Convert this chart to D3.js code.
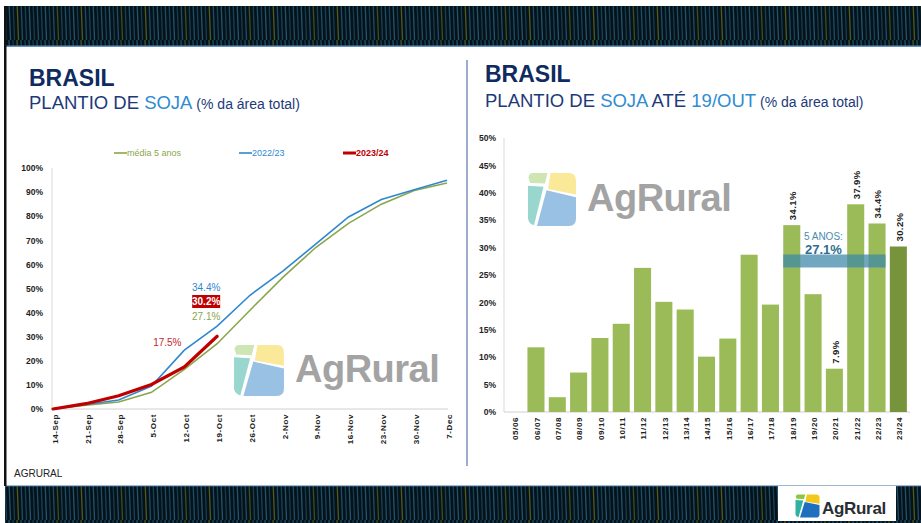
<!DOCTYPE html>
<html><head><meta charset="utf-8">
<script src="https://cdn.jsdelivr.net/npm/d3@7"></script>
<style>
html,body{margin:0;padding:0;background:#fff;}
svg{display:block;font-family:"Liberation Sans",Arial,sans-serif;}
</style></head>
<body>
<svg id="c" width="921" height="523"></svg>
<script>
// ---------- DATA ----------
const dates = ["14-Sep","21-Sep","28-Sep","5-Oct","12-Oct","19-Oct","26-Oct","2-Nov","9-Nov","16-Nov","23-Nov","30-Nov","7-Dec"];
const media5 = [0,1.6,2.9,6.9,16.4,27.1,41.0,54.6,67.0,77.0,85.0,90.7,93.8];
const s2223 = [0,1.9,3.7,9.5,24.4,34.4,47.2,57.2,68.4,79.7,86.9,91.0,94.9];
const s2324 = [0,2.2,5.5,10.2,17.5,30.2];
const yTicksLeft = [0,10,20,30,40,50,60,70,80,90,100];
const legendNames = ["média 5 anos","2022/23","2023/24"];

const seasons = ["05/06","06/07","07/08","08/09","09/10","10/11","11/12","12/13","13/14","14/15","15/16","16/17","17/18","18/19","19/20","20/21","21/22","22/23","23/24"];
const plantio = [0,11.8,2.7,7.2,13.5,16.1,26.3,20.1,18.7,10.1,13.4,28.7,19.6,34.1,21.5,7.9,37.9,34.4,30.2];
const labeledSeasons = ["18/19","20/21","21/22","22/23","23/24"];
const avgSeasons = ["18/19","19/20","20/21","21/22","22/23"];
const avg5 = 27.1;
const yTicksRight = [0,5,10,15,20,25,30,35,40,45,50];

// ---------- SETUP ----------
const svg = d3.select("#c");
const defs = svg.append("defs");
const pat = defs.append("pattern").attr("id","stripes").attr("patternUnits","userSpaceOnUse")
  .attr("width",64).attr("height",40);
pat.append("rect").attr("width",64).attr("height",40).attr("fill","#061218");
[[1,"#1a4d68"],[5,"#15425a"],[9,"#1c5472"],[13,"#133b50"],[17,"#4d5a1c"],[21,"#1a4d68"],[25,"#15425a"],[29,"#1c5472"],
 [33,"#133b50"],[37,"#1a4d68"],[41,"#15425a"],[45,"#1c5472"],[49,"#133b50"],[53,"#1a4d68"],[57,"#3e4d1a"],[61,"#15425a"]]
  .forEach(([x,c])=>pat.append("line").attr("x1",x).attr("x2",x+1.5).attr("y1",0).attr("y2",40).attr("stroke",c).attr("stroke-width",1.3));

// banners
svg.append("rect").attr("x",5).attr("y",6).attr("width",916).attr("height",40).attr("fill","url(#stripes)");
svg.append("line").attr("x1",5).attr("x2",921).attr("y1",46).attr("y2",46).attr("stroke","#3c6d9c").attr("stroke-width",1.5);
svg.append("rect").attr("x",5).attr("y",486).attr("width",916).attr("height",37).attr("fill","url(#stripes)");
svg.append("line").attr("x1",5).attr("x2",921).attr("y1",486).attr("y2",486).attr("stroke","#3c6d9c").attr("stroke-width",1);
svg.append("rect").attr("x",4).attr("y",6).attr("width",2.5).attr("height",480).attr("fill","#111");
// divider
svg.append("line").attr("x1",467).attr("x2",467).attr("y1",60).attr("y2",466).attr("stroke","#3b5c99").attr("stroke-width",1);

// ---------- logo helper ----------
function drawIcon(g, x, y, w, h, cols, op){
  const s = g.append("g").attr("transform",`translate(${x},${y}) scale(${w},${h})`).attr("opacity",op);
  const paths = [
    ["M0.06,0.2 L0.36,0.21 L0.41,0.02 L0.12,0.02 Q0.04,0.02 0.03,0.1 Z", cols[0]],
    ["M0.47,0.02 L0.84,0.02 Q0.98,0.02 0.98,0.16 L0.98,0.41 L0.42,0.31 Z", cols[1]],
    ["M0.02,0.25 L0.33,0.27 L0.14,0.97 Q0.03,0.94 0.02,0.84 Z", cols[2]],
    ["M0.39,0.33 L0.98,0.46 L0.98,0.84 Q0.98,0.98 0.84,0.98 L0.2,0.98 Z", cols[3]]
  ];
  paths.forEach(([d,c])=>s.append("path").attr("d",d).attr("fill",c));
}
const wmCols = ["#cde6b4","#fbe99a","#99d6cd","#98c1e4"];

// ---------- TITLES ----------
function title(x, y1, y2, parts){
  svg.append("text").attr("x",x).attr("y",y1).attr("font-size",23).attr("font-weight","bold").attr("fill","#0f2b5f").text("BRASIL");
  const t = svg.append("text").attr("x",x).attr("y",y2);
  parts.forEach(([s,c,fs])=>t.append("tspan").attr("fill",c).attr("font-size",fs).text(s));
}
title(29, 86, 109, [["PLANTIO DE ","#1d3a78",18.5],["SOJA","#2f8bd2",18.5],[" (% da área total)","#1d3a78",14]]);
title(485, 82, 107, [["PLANTIO DE ","#1d3a78",18.5],["SOJA","#2f8bd2",18.5],[" ATÉ ","#1d3a78",18.5],["19/OUT","#2f8bd2",18.5],[" (% da área total)","#1d3a78",14]]);

svg.append("text").attr("x",14).attr("y",477).attr("font-size",10).attr("fill","#222").text("AGRURAL");

// ---------- LEFT CHART ----------
const xL = d3.scalePoint().domain(dates).range([53,447]);
const yL = d3.scaleLinear().domain([0,100]).range([409,168]);
const gL = svg.append("g");

// watermark
drawIcon(gL, 233, 344, 52, 53, wmCols, 1);
gL.append("text").attr("x",295).attr("y",382).attr("font-size",38).attr("font-weight","bold")
  .attr("letter-spacing",-0.5).attr("fill","#a3a3a3").text("AgRural");

// axes
gL.append("line").attr("x1",52).attr("x2",52).attr("y1",yL(100)).attr("y2",yL(0)).attr("stroke","#d9d9d9");
gL.append("line").attr("x1",52).attr("x2",448).attr("y1",yL(0)).attr("y2",yL(0)).attr("stroke","#d0d0d0");
const yAxL = gL.append("g").attr("transform","translate(52,0)")
  .call(d3.axisLeft(yL).tickValues(yTicksLeft).tickSize(0).tickPadding(9).tickFormat(d=>d+"%"));
yAxL.select(".domain").remove();
yAxL.selectAll("text").attr("font-size",8.5).attr("font-weight","bold").attr("fill","#222").attr("font-family","Liberation Sans, Arial, sans-serif");

gL.selectAll(".xl").data(dates).enter().append("text")
  .attr("transform",d=>`translate(${xL(d)+2},414) rotate(-90)`)
  .attr("text-anchor","end").attr("dy","0.35em").attr("font-size",8).attr("font-weight","bold")
  .attr("letter-spacing",0.6).attr("fill","#222").text(d=>d);

const line = d3.line().x((d,i)=>xL(dates[i])).y(d=>yL(d));
gL.append("path").datum(media5).attr("d",line).attr("fill","none").attr("stroke","#8aa64c").attr("stroke-width",1.6);
gL.append("path").datum(s2223).attr("d",line).attr("fill","none").attr("stroke","#2f88cf").attr("stroke-width",1.6);
gL.append("path").datum(s2324).attr("d",line).attr("fill","none").attr("stroke","#c00000").attr("stroke-width",3.2).attr("stroke-linecap","round");

// data labels
const i19 = dates.indexOf("19-Oct"), i12 = dates.indexOf("12-Oct");
const lx = xL(dates[i19]) - 11;
gL.append("text").attr("x",lx).attr("y",291).attr("text-anchor","middle").attr("font-size",10).attr("fill","#2f88cf").text(s2223[i19].toFixed(1)+"%");
gL.append("rect").attr("x",lx-14).attr("y",295).attr("width",28).attr("height",13).attr("fill","#c00000");
gL.append("text").attr("x",lx).attr("y",305).attr("text-anchor","middle").attr("font-size",10).attr("font-weight","bold").attr("fill","#fff").text(s2324[i19].toFixed(1)+"%");
gL.append("text").attr("x",lx).attr("y",320).attr("text-anchor","middle").attr("font-size",10).attr("fill","#8aa64c").text(media5[i19].toFixed(1)+"%");
gL.append("text").attr("x",xL(dates[i12])-17).attr("y",346).attr("text-anchor","middle").attr("font-size",10).attr("fill","#c0282d").text(s2324[i12].toFixed(1)+"%");

// legend
const legCols = ["#8aa64c","#2f88cf","#c00000"];
const legX = [114,239,343];
legendNames.forEach((n,i)=>{
  gL.append("line").attr("x1",legX[i]).attr("x2",legX[i]+13).attr("y1",153).attr("y2",153)
    .attr("stroke",legCols[i]).attr("stroke-width",i===2?3:1.6);
  gL.append("text").attr("x",legX[i]+13).attr("y",156).attr("font-size",9)
    .attr("font-weight",i===2?"bold":"normal").attr("fill",legCols[i]).text(n);
});

// ---------- RIGHT CHART ----------
const xR = d3.scaleBand().domain(seasons).range([504,909]).paddingInner(0.2).paddingOuter(0.1);
const yR = d3.scaleLinear().domain([0,50]).range([412,138]);
const gR = svg.append("g");

drawIcon(gR, 527, 172, 50, 55, wmCols, 1);
gR.append("text").attr("x",587).attr("y",211).attr("font-size",38).attr("font-weight","bold")
  .attr("letter-spacing",-0.5).attr("fill","#a3a3a3").text("AgRural");

gR.append("line").attr("x1",504).attr("x2",504).attr("y1",yR(50)).attr("y2",yR(0)).attr("stroke","#d9d9d9");
gR.append("line").attr("x1",504).attr("x2",910).attr("y1",yR(0)).attr("y2",yR(0)).attr("stroke","#d0d0d0");
const yAxR = gR.append("g").attr("transform","translate(504,0)")
  .call(d3.axisLeft(yR).tickValues(yTicksRight).tickSize(0).tickPadding(8).tickFormat(d=>d+"%"));
yAxR.select(".domain").remove();
yAxR.selectAll("text").attr("font-size",8.5).attr("font-weight","bold").attr("fill","#222").attr("font-family","Liberation Sans, Arial, sans-serif");

gR.selectAll(".bar").data(seasons).enter().append("rect")
  .attr("x",d=>xR(d)).attr("width",xR.bandwidth())
  .attr("y",(d,i)=>yR(plantio[i])).attr("height",(d,i)=>yR(0)-yR(plantio[i]))
  .attr("fill",(d,i)=>i===seasons.length-1?"#77933c":"#9bbb59");

gR.selectAll(".xr").data(seasons).enter().append("text")
  .attr("transform",d=>`translate(${xR(d)+xR.bandwidth()/2+1},417) rotate(-90)`)
  .attr("text-anchor","end").attr("dy","0.35em").attr("font-size",8).attr("font-weight","bold")
  .attr("letter-spacing",0.6).attr("fill","#222").text(d=>d);

gR.selectAll(".vl").data(labeledSeasons).enter().append("text")
  .attr("transform",d=>`translate(${xR(d)+xR.bandwidth()/2+1},${yR(plantio[seasons.indexOf(d)])-5}) rotate(-90)`)
  .attr("text-anchor","start").attr("dy","0.35em").attr("font-size",9.5).attr("font-weight","bold")
  .attr("letter-spacing",0.4).attr("fill","#222").text(d=>plantio[seasons.indexOf(d)].toFixed(1)+"%");

// 5-year band
const bx0 = xR(avgSeasons[0]), bx1 = xR(avgSeasons[avgSeasons.length-1]) + xR.bandwidth();
gR.append("rect").attr("x",bx0).attr("width",bx1-bx0).attr("y",yR(avg5)-9).attr("height",13)
  .attr("fill","#3a86a8").attr("opacity",0.72);
const bcx = (bx0+bx1)/2 - 11;
gR.append("text").attr("x",bcx).attr("y",239.5).attr("text-anchor","middle").attr("font-size",10).attr("fill","#4a8cb0").text("5 ANOS:");
gR.append("text").attr("x",bcx).attr("y",254).attr("text-anchor","middle").attr("font-size",13).attr("font-weight","bold").attr("fill","#2f6f8f").text(avg5.toFixed(1)+"%");

// ---------- footer logo ----------
svg.append("rect").attr("x",778).attr("y",486).attr("width",118).attr("height",35).attr("fill","#fff");
drawIcon(svg, 795, 494, 25, 24, ["#8cc63f","#f4c81a","#2fb3a0","#1f6fbf"], 1);
svg.append("text").attr("x",822).attr("y",514).attr("font-size",17).attr("font-weight","bold")
  .attr("letter-spacing",-0.3).attr("fill","#2a2d33").text("AgRural");
</script>
</body></html>
